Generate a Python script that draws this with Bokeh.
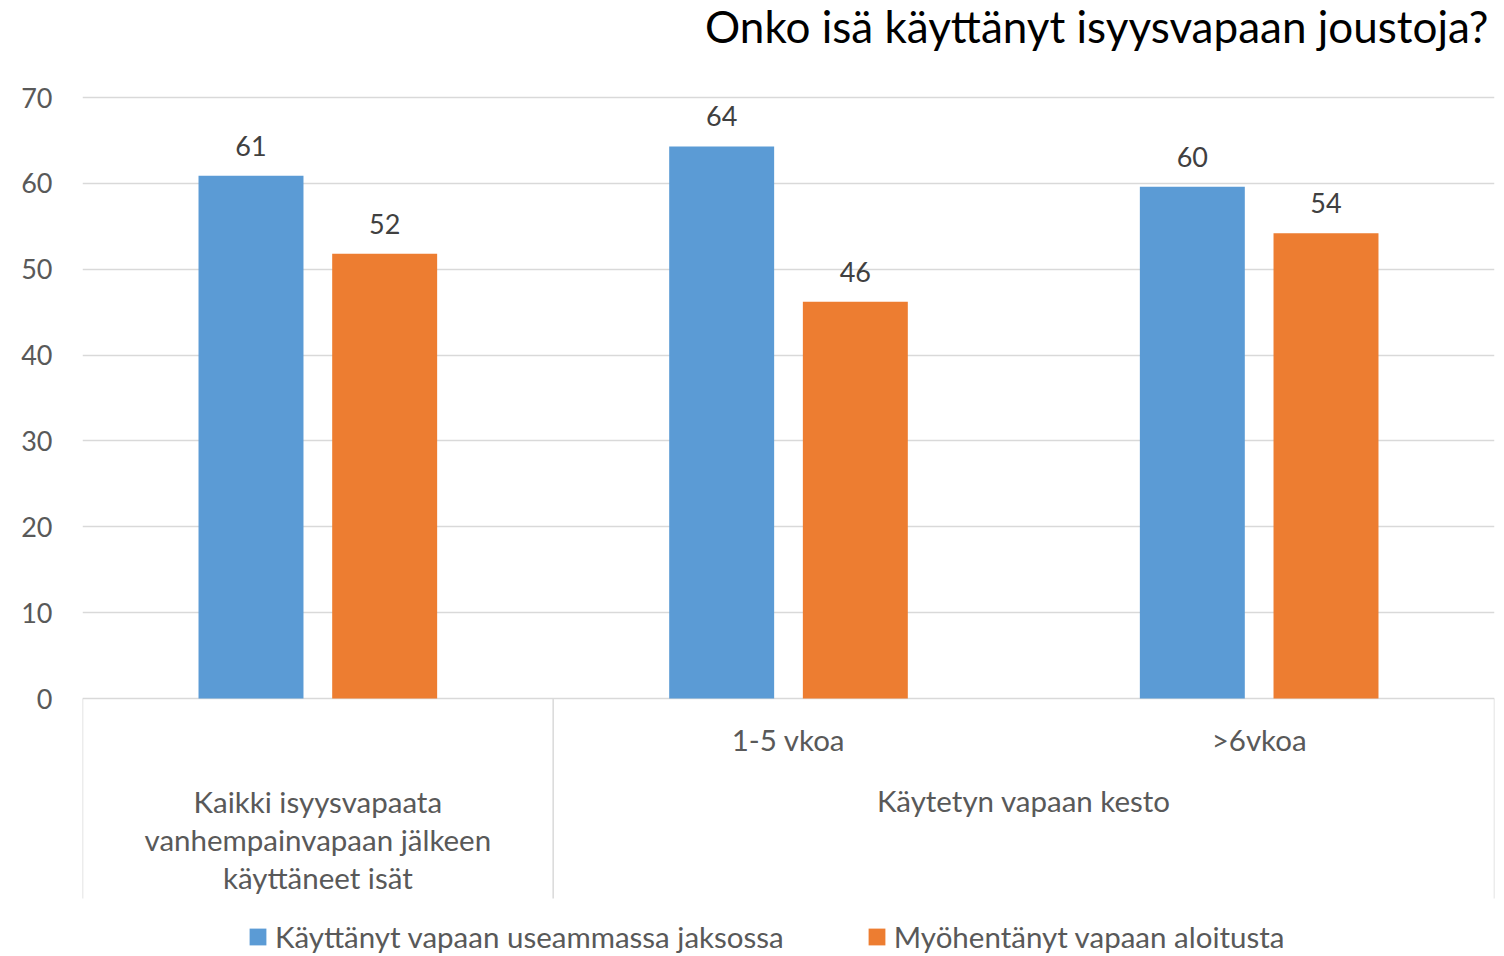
from bokeh.plotting import figure
from bokeh.models import ColumnDataSource, FactorRange, FixedTicker, Label, Legend, LegendItem
from bokeh.transform import dodge
from bokeh.core.properties import value
from bokeh.embed import file_html
from bokeh.resources import INLINE

# ---- data ----
title_text = "Onko isä käyttänyt isyysvapaan joustoja?"
group_names = ["Kaikki isyysvapaata vanhempainvapaan jälkeen käyttäneet isät",
               "Käytetyn vapaan kesto"]
group_display = ["Kaikki isyysvapaata\nvanhempainvapaan jälkeen\nkäyttäneet isät",
                 "Käytetyn vapaan kesto"]
bar_groups = [group_names[0], group_names[1], group_names[1]]
sub_keys = ["kaikki", "1-5 vkoa", ">6vkoa"]
sub_display = ["", "1-5 vkoa", ">6vkoa"]
series_names = ["Käyttänyt vapaan useammassa jaksossa", "Myöhentänyt vapaan aloitusta"]
series1 = [60.9, 64.3, 59.6]
series2 = [51.8, 46.2, 54.2]
y_ticks = [0, 10, 20, 30, 40, 50, 60, 70]

# ---- style ----
FONT = "Lato"
BLUE = "#5B9BD5"
ORANGE = "#ED7D31"
GRID = "#D9D9D9"
TXT = "#595959"
LBL = "#404040"
W, H = 1504, 956
PX_PER_UNIT = 601 / 70.0
ZERO_PX = 698          # canvas y of value 0
TOP_PX = 97            # canvas y of value 70

factors = list(zip(bar_groups, sub_keys))
y_end = 70 + TOP_PX / PX_PER_UNIT
y_start = -(H - ZERO_PX) / PX_PER_UNIT


def px_to_y(py):
    return (ZERO_PX - py) / PX_PER_UNIT


p = figure(width=W, height=H, output_backend="svg", toolbar_location=None,
           x_range=FactorRange(factors=factors, factor_padding=0, group_padding=0,
                               subgroup_padding=0, range_padding=0),
           y_range=(y_start, y_end), x_axis_location=None,
           min_border_left=82, min_border_right=10, min_border_top=0, min_border_bottom=0)
p.outline_line_color = None
p.background_fill_color = "white"
p.border_fill_color = "white"
p.xgrid.visible = False
p.ygrid.ticker = FixedTicker(ticks=y_ticks)
p.ygrid.grid_line_color = GRID
p.ygrid.grid_line_width = 1.5

ax = p.yaxis[0]
ax.ticker = FixedTicker(ticks=y_ticks)
ax.axis_line_color = None
ax.major_tick_line_color = None
ax.minor_tick_line_color = None
ax.major_tick_out = 0
ax.major_tick_in = 0
ax.major_label_standoff = 30
ax.major_label_text_font = FONT
ax.major_label_text_font_size = "27px"
ax.major_label_text_color = TXT

src = ColumnDataSource(dict(
    x=factors, s1=series1, s2=series2,
    l1=[f"{v:.0f}" for v in series1], l2=[f"{v:.0f}" for v in series2],
    ly1=[v + 30 / PX_PER_UNIT for v in series1], ly2=[v + 30 / PX_PER_UNIT for v in series2],
))

OFF = 0.142
BW = 0.223
r1 = p.vbar(x=dodge("x", -OFF, range=p.x_range), top="s1", bottom=0, width=BW, source=src,
            fill_color=BLUE, line_color=None)
r2 = p.vbar(x=dodge("x", OFF, range=p.x_range), top="s2", bottom=0, width=BW, source=src,
            fill_color=ORANGE, line_color=None)

for lab, ly, off in (("l1", "ly1", -OFF), ("l2", "ly2", OFF)):
    p.text(x=dodge("x", off, range=p.x_range), y=ly, text=lab, source=src,
           text_font=value(FONT), text_font_size="27px", text_color=LBL,
           text_align="center", text_baseline="middle")

# category axis separators
sep_bottom = px_to_y(898)
sep_left = ColumnDataSource(dict(x=[factors[0], factors[1]]))
sep_right = ColumnDataSource(dict(x=[factors[2]]))
for s, d in ((sep_left, -0.5), (sep_right, 0.5)):
    p.segment(x0=dodge("x", d, range=p.x_range), x1=dodge("x", d, range=p.x_range),
              y0=0, y1=sep_bottom, source=s, line_color=GRID, line_width=1.5)

# category labels
CAT_FS = "29.5px"
p.text(x=factors, y=[px_to_y(739)] * len(factors), text=sub_display,
       text_font=value(FONT), text_font_size=CAT_FS, text_color=TXT,
       text_align="center", text_baseline="middle")
p.text(x=[group_names[0]], y=[px_to_y(839)], text=[group_display[0]],
       text_font=value(FONT), text_font_size=CAT_FS, text_color=TXT,
       text_align="center", text_baseline="middle", text_line_height=1.075)
p.text(x=[group_names[1]], y=[px_to_y(800)], text=[group_display[1]],
       text_font=value(FONT), text_font_size=CAT_FS, text_color=TXT,
       text_align="center", text_baseline="middle")

# title
p.add_layout(Label(x=3, y=px_to_y(25), x_offset=-6, text=title_text,
                   text_font=FONT, text_font_size="44px", text_color="#000000",
                   text_align="right", text_baseline="middle"))

legend = Legend(items=[LegendItem(label=series_names[0], renderers=[r1]),
                       LegendItem(label=series_names[1], renderers=[r2])],
                orientation="horizontal", location=(165, 2),
                glyph_width=21, glyph_height=21, label_standoff=7, spacing=82,
                padding=0, margin=0, border_line_color=None, background_fill_alpha=0,
                label_text_font=FONT, label_text_font_size=CAT_FS, label_text_color=TXT)
p.add_layout(legend)

open("out.html", "w").write(file_html(p, INLINE))
